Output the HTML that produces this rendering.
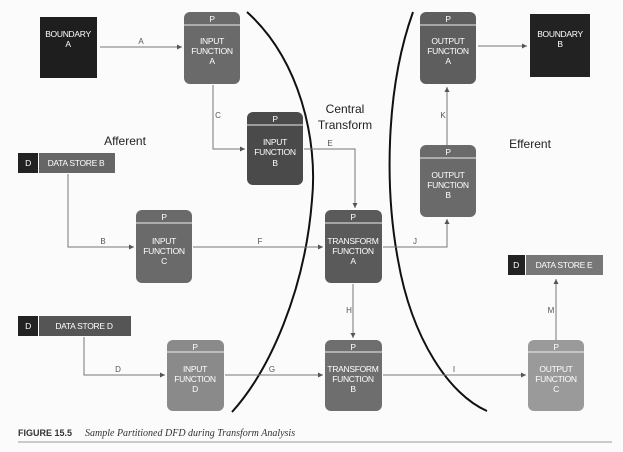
<!DOCTYPE html>
<html><head><meta charset="utf-8"><style>
html,body{margin:0;padding:0;background:#fff;}
svg{display:block;}
text{font-family:"Liberation Sans",sans-serif;}
.w{fill:#fff;font-size:8.5px;text-anchor:middle;letter-spacing:-0.3px;}
.l{fill:#555;font-size:8px;text-anchor:middle;}
.c{stroke:#777;stroke-width:1;fill:none;}
</style></head><body>
<svg width="623" height="452" viewBox="0 0 623 452">
<defs>
<marker id="a" markerWidth="6" markerHeight="6" refX="5" refY="3" orient="auto"><path d="M0,0.5 L5,3 L0,5.5z" fill="#555"/></marker>
</defs>
<rect width="623" height="452" fill="#fbfbfb"/>
<path d="M247,12 C300,60 318,140 312,200 C305,290 270,370 232,412" stroke="#111" stroke-width="2" fill="none"/>
<path d="M413,12 C385,90 385,190 398,260 C412,340 450,395 487,411" stroke="#111" stroke-width="2" fill="none"/>
<path class="c" d="M100,47 H182" marker-end="url(#a)"/>
<path class="c" d="M478,46 H527" marker-end="url(#a)"/>
<path class="c" d="M213,85 V149 H245" marker-end="url(#a)"/>
<path class="c" d="M304,149 H355 V208" marker-end="url(#a)"/>
<path class="c" d="M68,174 V247 H134" marker-end="url(#a)"/>
<path class="c" d="M193,247 H323" marker-end="url(#a)"/>
<path class="c" d="M383,247 H447 V219" marker-end="url(#a)"/>
<path class="c" d="M447,145 V87" marker-end="url(#a)"/>
<path class="c" d="M353,284 V338" marker-end="url(#a)"/>
<path class="c" d="M225,375 H323" marker-end="url(#a)"/>
<path class="c" d="M84,337 V375 H165" marker-end="url(#a)"/>
<path class="c" d="M383,375 H526" marker-end="url(#a)"/>
<path class="c" d="M556,340 V279" marker-end="url(#a)"/>
<g class="l">
<text x="141" y="44">A</text><text x="540" y="43">L</text>
<text x="218" y="118">C</text><text x="330" y="146">E</text>
<text x="103" y="244">B</text><text x="260" y="244">F</text>
<text x="415" y="244">J</text><text x="443" y="118">K</text>
<text x="349" y="313">H</text><text x="118" y="372">D</text>
<text x="272" y="372">G</text><text x="454" y="372">I</text>
<text x="551" y="313">M</text>
</g>
<rect x="40" y="17" width="57" height="61" fill="#1e1e1e"/>
<text class="w" x="68" y="37">BOUNDARY</text><text class="w" x="68" y="47">A</text>
<rect x="530" y="14" width="60" height="63" fill="#222"/>
<text class="w" x="560" y="37">BOUNDARY</text><text class="w" x="560" y="47">B</text>
<g>
<rect x="184" y="12" width="56" height="72" rx="6" fill="#6a6a6a"/><line x1="184" y1="25" x2="240" y2="25" stroke="#eee"/>
<text class="w" x="212" y="22">P</text><text class="w" x="212" y="44">INPUT</text><text class="w" x="212" y="54">FUNCTION</text><text class="w" x="212" y="64">A</text>
<rect x="247" y="112" width="56" height="73" rx="6" fill="#4a4a4a"/><line x1="247" y1="125" x2="303" y2="125" stroke="#eee"/>
<text class="w" x="275" y="122">P</text><text class="w" x="275" y="145">INPUT</text><text class="w" x="275" y="155">FUNCTION</text><text class="w" x="275" y="166">B</text>
<rect x="136" y="210" width="56" height="73" rx="6" fill="#6a6a6a"/><line x1="136" y1="223" x2="192" y2="223" stroke="#eee"/>
<text class="w" x="164" y="220">P</text><text class="w" x="164" y="244">INPUT</text><text class="w" x="164" y="254">FUNCTION</text><text class="w" x="164" y="264">C</text>
<rect x="167" y="340" width="57" height="71" rx="6" fill="#8a8a8a"/><line x1="167" y1="352" x2="224" y2="352" stroke="#eee"/>
<text class="w" x="195" y="350">P</text><text class="w" x="195" y="372">INPUT</text><text class="w" x="195" y="382">FUNCTION</text><text class="w" x="195" y="392">D</text>
<rect x="325" y="210" width="57" height="73" rx="6" fill="#5a5a5a"/><line x1="325" y1="223" x2="382" y2="223" stroke="#eee"/>
<text class="w" x="353" y="220">P</text><text class="w" x="353" y="244">TRANSFORM</text><text class="w" x="353" y="254">FUNCTION</text><text class="w" x="353" y="264">A</text>
<rect x="325" y="340" width="57" height="71" rx="6" fill="#6e6e6e"/><line x1="325" y1="352" x2="382" y2="352" stroke="#eee"/>
<text class="w" x="353" y="350">P</text><text class="w" x="353" y="372">TRANSFORM</text><text class="w" x="353" y="382">FUNCTION</text><text class="w" x="353" y="392">B</text>
<rect x="420" y="12" width="56" height="72" rx="6" fill="#5e5e5e"/><line x1="420" y1="25" x2="476" y2="25" stroke="#eee"/>
<text class="w" x="448" y="22">P</text><text class="w" x="448" y="44">OUTPUT</text><text class="w" x="448" y="54">FUNCTION</text><text class="w" x="448" y="64">A</text>
<rect x="420" y="145" width="56" height="72" rx="6" fill="#6a6a6a"/><line x1="420" y1="158" x2="476" y2="158" stroke="#eee"/>
<text class="w" x="448" y="155">P</text><text class="w" x="448" y="178">OUTPUT</text><text class="w" x="448" y="188">FUNCTION</text><text class="w" x="448" y="198">B</text>
<rect x="528" y="340" width="56" height="71" rx="6" fill="#9a9a9a"/><line x1="528" y1="352" x2="584" y2="352" stroke="#eee"/>
<text class="w" x="556" y="350">P</text><text class="w" x="556" y="372">OUTPUT</text><text class="w" x="556" y="382">FUNCTION</text><text class="w" x="556" y="392">C</text>
</g>
<rect x="18" y="153" width="20" height="20" fill="#222"/><rect x="39" y="153" width="76" height="20" fill="#666"/>
<text class="w" x="28" y="166">D</text><text class="w" x="76" y="166">DATA STORE B</text>
<rect x="18" y="316" width="20" height="20" fill="#222"/><rect x="39" y="316" width="92" height="20" fill="#555"/>
<text class="w" x="28" y="329">D</text><text class="w" x="84" y="329">DATA STORE D</text>
<rect x="508" y="255" width="17" height="20" fill="#222"/><rect x="526" y="255" width="77" height="20" fill="#777"/>
<text class="w" x="516" y="268">D</text><text class="w" x="564" y="268">DATA STORE E</text>
<text x="345" y="113" font-size="12" text-anchor="middle" fill="#222">Central</text>
<text x="345" y="129" font-size="12" text-anchor="middle" fill="#222">Transform</text>
<text x="125" y="145" font-size="12" text-anchor="middle" fill="#222">Afferent</text>
<text x="530" y="148" font-size="12" text-anchor="middle" fill="#222">Efferent</text>
<text x="18" y="436" font-size="9" font-weight="bold" fill="#333">FIGURE 15.5</text>
<text x="85" y="436" font-size="10" font-style="italic" fill="#333" style="font-family:'Liberation Serif',serif">Sample Partitioned DFD during Transform Analysis</text>
<line x1="18" y1="442" x2="612" y2="442" stroke="#999" stroke-width="1"/>
</svg>
</body></html>
